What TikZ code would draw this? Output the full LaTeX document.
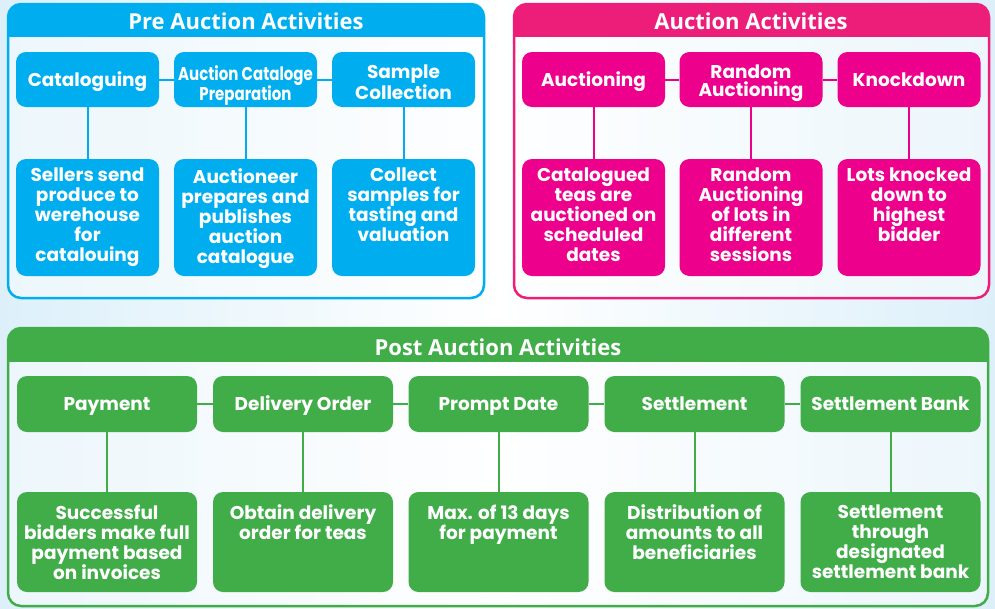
\documentclass[tikz,border=0pt]{standalone}
\usepackage{fontspec}
\newfontfamily\pop{Poppins Bold}
\newfontfamily\hdr{Open Sans}
\definecolor{cblue}{HTML}{00AEEF}
\definecolor{cpinkh}{HTML}{EC1E79}
\definecolor{cpink}{HTML}{EC008C}
\definecolor{cgreen}{HTML}{40AD49}
\definecolor{bgblue}{HTML}{DDF0FA}
\tikzset{
  x=1pt,y=-1pt,
  box/.style={rounded corners=10pt, inner sep=0pt, draw=none},
  txt/.style={text=white, font=\pop\fontsize{18.5}{20}\selectfont, align=center, inner sep=0pt, anchor=north, execute at begin node={\rule{0pt}{15pt}}},
  hd/.style={text=white, font=\hdr\bfseries\fontsize{22}{24}\selectfont, inner sep=0pt},
  link/.style={line width=2pt},
}
\begin{document}
\begin{tikzpicture}
\useasboundingbox (0,0) rectangle (995,608);
\shade[left color=bgblue, right color=bgblue, middle color=white] (0,0) rectangle (995,608);
% ---------- panels
\def\panel#1#2#3#4#5#6{%
  \begin{scope}
  \clip[rounded corners=13pt] (#1,#2) rectangle (#3,#4);
  \fill[white, opacity=0.45] (#1,#2) rectangle (#3,#4);
  \fill[#5] (#1,#2) rectangle (#3,#6);
  \end{scope}
  \draw[#5, line width=2.5pt, rounded corners=13pt] (#1,#2) rectangle (#3,#4);}
\panel{8}{4}{484}{298}{cblue}{37}
\panel{514}{4}{989}{298}{cpinkh}{37}
\panel{8}{328}{988}{606}{cgreen}{362}
\node[hd] (h1) at (246,21) {Pre Auction Activities};
\node[hd] (h2) at (751,21) {Auction Activities};
\node[hd] (h3) at (498,347) {Post Auction Activities};
% ---------- pre auction
\begin{scope}[every node/.append style={fill=cblue}]
\node[box, minimum width=143pt, minimum height=55pt] (a1) at (87.5,79.5) {};
\node[box, minimum width=143pt, minimum height=55pt] (a2) at (245.5,79.5) {};
\node[box, minimum width=143pt, minimum height=55pt] (a3) at (403.5,79.5) {};
\node[box, minimum width=143pt, minimum height=117pt] (b1) at (87.5,217.5) {};
\node[box, minimum width=143pt, minimum height=117pt] (b2) at (245.5,217.5) {};
\node[box, minimum width=143pt, minimum height=117pt] (b3) at (403.5,217.5) {};
\end{scope}
\draw[cblue, link] (a1) -- (a2); \draw[cblue, link] (a2) -- (a3);
\draw[cblue, link] (a1) -- (b1); \draw[cblue, link] (a2) -- (b2); \draw[cblue, link] (a3) -- (b3);
\node[txt] (ta1) at (87.5,71) {Cataloguing};
\node[txt, font=\pop\fontsize{18.5}{17}\selectfont] (ta2) at (245.5,65) {\scalebox{0.81}[1]{Auction Cataloge}\\\scalebox{0.81}[1]{Preparation}};
\node[txt, font=\pop\fontsize{18.5}{19}\selectfont] (ta3) at (403.5,65) {Sample\\Collection};
\node[txt] (tb1) at (87.5,168) {Sellers send\\produce to\\werehouse\\for\\catalouing};
\node[txt] (tb2) at (245.5,168) {Auctioneer\\prepares and\\publishes\\auction\\catalogue};
\node[txt] (tb3) at (403.5,168) {Collect\\samples for\\tasting and\\valuation};
% ---------- auction
\begin{scope}[every node/.append style={fill=cpink}]
\node[box, minimum width=143pt, minimum height=55pt] (c1) at (593.5,79.5) {};
\node[box, minimum width=143pt, minimum height=55pt] (c2) at (751,79.5) {};
\node[box, minimum width=143pt, minimum height=55pt] (c3) at (909,79.5) {};
\node[box, minimum width=143pt, minimum height=117pt] (d1) at (593.5,217.5) {};
\node[box, minimum width=143pt, minimum height=117pt] (d2) at (751,217.5) {};
\node[box, minimum width=143pt, minimum height=117pt] (d3) at (909,217.5) {};
\end{scope}
\draw[cpink, link] (c1) -- (c2); \draw[cpink, link] (c2) -- (c3);
\draw[cpink, link] (c1) -- (d1); \draw[cpink, link] (c2) -- (d2); \draw[cpink, link] (c3) -- (d3);
\node[txt] (tc1) at (593.5,71) {Auctioning};
\node[txt, font=\pop\fontsize{18.5}{17.5}\selectfont] (tc2) at (751,65) {Random\\Auctioning};
\node[txt] (tc3) at (909,71) {Knockdown};
\node[txt] (td1) at (593.5,168) {Catalogued\\teas are\\auctioned on\\scheduled\\dates};
\node[txt] (td2) at (751,168) {Random\\Auctioning\\of lots in\\different\\sessions};
\node[txt] (td3) at (909,168) {Lots knocked\\down to\\highest\\bidder};
% ---------- post auction
\begin{scope}[every node/.append style={fill=cgreen}]
\node[box, minimum width=180pt, minimum height=56pt] (e1) at (107,404) {};
\node[box, minimum width=180pt, minimum height=56pt] (e2) at (303,404) {};
\node[box, minimum width=180pt, minimum height=56pt] (e3) at (498.5,404) {};
\node[box, minimum width=180pt, minimum height=56pt] (e4) at (694.5,404) {};
\node[box, minimum width=180pt, minimum height=56pt] (e5) at (890.5,404) {};
\node[box, minimum width=180pt, minimum height=100pt] (f1) at (107,542) {};
\node[box, minimum width=180pt, minimum height=100pt] (f2) at (303,542) {};
\node[box, minimum width=180pt, minimum height=100pt] (f3) at (498.5,542) {};
\node[box, minimum width=180pt, minimum height=100pt] (f4) at (694.5,542) {};
\node[box, minimum width=180pt, minimum height=100pt] (f5) at (890.5,542) {};
\end{scope}
\foreach \i/\j in {e1/e2,e2/e3,e3/e4,e4/e5,e1/f1,e2/f2,e3/f3,e4/f4,e5/f5} \draw[cgreen, link] (\i) -- (\j);
\node[txt] (te1) at (107,395) {Payment};
\node[txt] (te2) at (303,395) {Delivery Order};
\node[txt] (te3) at (498.5,395) {Prompt Date};
\node[txt] (te4) at (694.5,395) {Settlement};
\node[txt] (te5) at (890.5,395) {Settlement Bank};
\node[txt] (tf1) at (107,504.3) {Successful\\bidders make full\\payment based\\on invoices};
\node[txt] (tf2) at (303,504.3) {Obtain delivery\\order for teas};
\node[txt] (tf3) at (498.5,504.3) {Max. of 13 days\\for payment};
\node[txt] (tf4) at (694.5,504.3) {Distribution of\\amounts to all\\beneficiaries};
\node[txt] (tf5) at (890.5,504.3) {Settlement\\through\\designated\\settlement bank};
\end{tikzpicture}
\end{document}
